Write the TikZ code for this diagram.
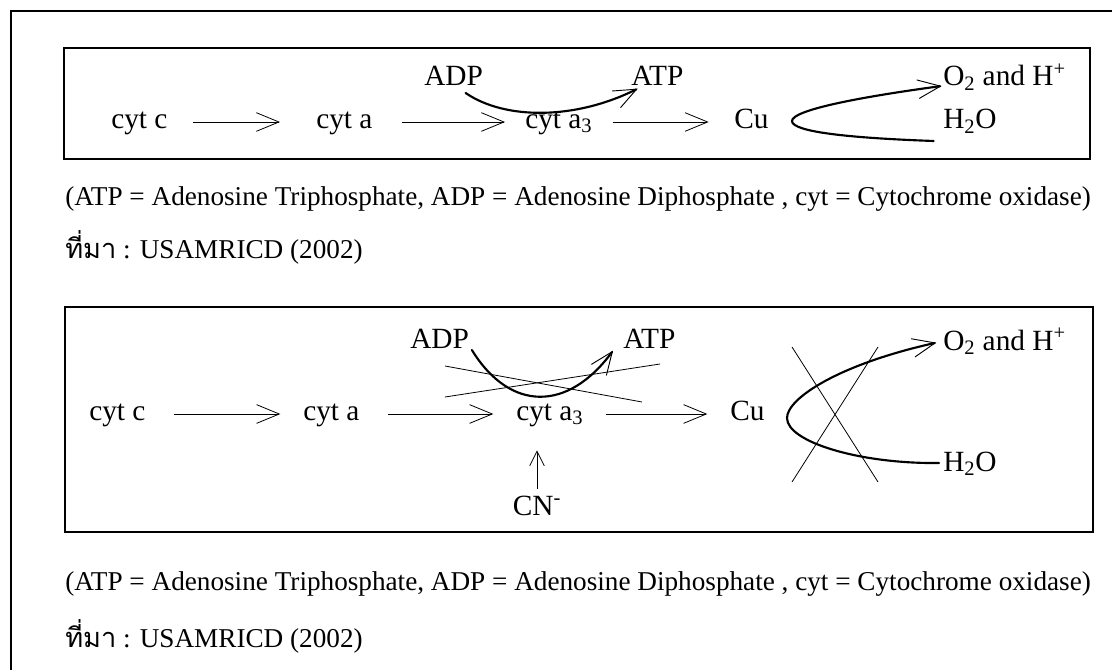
\documentclass[tikz,border=0pt]{standalone}
\usepackage{fontspec}
\setmainfont{Liberation Serif}
\newfontfamily\thaifont[Script=Thai]{Loma}
\usetikzlibrary{arrows.meta}
\begin{document}
\begin{tikzpicture}[x=0.75pt,y=-0.75pt,
  lbl/.style={inner sep=0pt, anchor=west, font=\fontsize{22}{24}\selectfont, text height=10pt, text depth=0pt},
  tag/.style={inner sep=0pt, anchor=base west, font=\fontsize{22}{24}\selectfont},
  captext/.style={inner sep=0pt, anchor=base west, font=\fontsize{20.4}{24}\selectfont},
  arr/.style={line width=0.6pt, -{Straight Barb[length=17pt,width=14pt,line width=0.6pt]}},
  uparr/.style={line width=0.6pt, -{Straight Barb[length=11pt,width=11pt,line width=0.6pt]}},
  bendarr/.style={line width=1.6pt, line cap=round, -{Straight Barb[length=17pt,width=14pt,line width=0.7pt]}},
  xline/.style={line width=0.6pt},
  boxframe/.style={line width=1.1pt}]
\useasboundingbox (0,0) rectangle (1112,670);
\draw[line width=0.9pt] (11,670) -- (11,11) -- (1112,11);
% ---------- top box ----------
\draw[boxframe] (64,48) rectangle (1090,159);
\node[lbl] (c1) at (111,122) {cyt c};
\node[lbl] (a1) at (316,122) {cyt a};
\node[lbl] (a31) at (525,122) {cyt a\textsubscript{3}};
\node[lbl] (cu1) at (734,122) {Cu};
\node[tag] (adp1) at (424,86) {ADP};
\node[tag] (atp1) at (631,86) {ATP};
\node[tag] (o1) at (943,86) {O\textsubscript{2} and H\textsuperscript{+}};
\node[tag] (h1) at (943,129) {H\textsubscript{2}O};
\draw[arr, shorten <=19pt, shorten >=27pt] (c1.east) -- (a1.west);
\draw[arr, shorten <=22pt, shorten >=15pt] (a1.east) -- (a31.west);
\draw[arr, shorten <=15pt, shorten >=19pt] (a31.east) -- (cu1.west);
\draw[bendarr] ([shift={(9pt,-5pt)}]adp1.south) .. controls (505,120) and (575,120) .. ([shift={(5pt,-2pt)}]atp1.base west);
\draw[bendarr] ([shift={(-7pt,-9pt)}]h1.base west) .. controls (850,138) and (792,132) .. (792,121) .. controls (792,110) and (860,97) .. ([shift={(-1pt,0pt)}]o1.base west);
% ---------- captions ----------
\node[captext] (t1) at (65,205) {(ATP = Adenosine Triphosphate, ADP = Adenosine Diphosphate , cyt = Cytochrome oxidase)};
\node[captext] (s1) at (65,258) {{\thaifont ที่มา} : USAMRICD (2002)};
% ---------- bottom box ----------
\draw[boxframe] (65,307) rectangle (1093,532);
\node[lbl] (c2) at (89,414) {cyt c};
\node[lbl] (a2) at (303,414) {cyt a};
\node[lbl] (a32) at (516,414) {cyt a\textsubscript{3}};
\node[lbl] (cu2) at (730,414) {Cu};
\node[tag] (adp2) at (410,348) {ADP};
\node[tag] (atp2) at (623,348) {ATP};
\node[tag] (o2) at (943,350) {O\textsubscript{2} and H\textsuperscript{+}};
\node[tag] (h2) at (943,471) {H\textsubscript{2}O};
\node[tag, anchor=base] (cn) at (537,515) {CN\textsuperscript{-}};
\draw[arr, shorten <=21pt, shorten >=17pt] (c2.east) -- (a2.west);
\draw[arr, shorten <=21pt, shorten >=17pt] (a2.east) -- (a32.west);
\draw[arr, shorten <=16.5pt, shorten >=17pt] (a32.east) -- (cu2.west);
\draw[uparr, shorten <=5pt, shorten >=22pt] (cn.north) -- (cn.north |- a32.south);
\draw[bendarr] ([shift={(2pt,-1.5pt)}]adp2.base east) .. controls (510,412) and (568,412) .. ([shift={(-7.5pt,-2pt)}]atp2.base west);
\draw[xline] (445,366) -- (642,402);
\draw[xline] (445,397) -- (660,364);
\draw[bendarr] ([shift={(-3pt,6pt)}]h2.base west) .. controls (860,464) and (787,442) .. (787,418) .. controls (787,398) and (840,364) .. ([shift={(-5pt,5.5pt)}]o2.base west);
\draw[xline] (792,347) -- (878,482);
\draw[xline] (878,347) -- (792,482);
% ---------- captions ----------
\node[captext] (t2) at (65,590) {(ATP = Adenosine Triphosphate, ADP = Adenosine Diphosphate , cyt = Cytochrome oxidase)};
\node[captext] (s2) at (65,647) {{\thaifont ที่มา} : USAMRICD (2002)};
\end{tikzpicture}
\end{document}
